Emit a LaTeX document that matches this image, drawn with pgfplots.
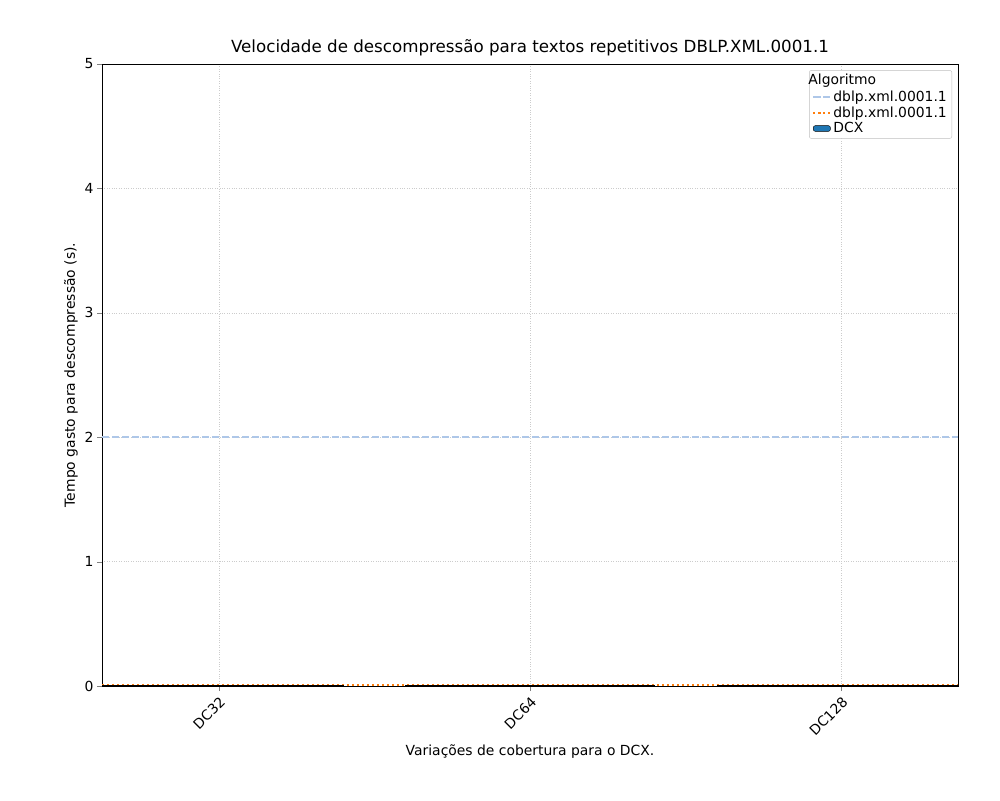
\documentclass[border=0pt]{standalone}
\usepackage{pgfplots}
\pgfplotsset{compat=1.18}
\usepackage{fontspec}
\setmainfont{DejaVu Sans}
\definecolor{lb}{HTML}{AEC7E8}
\definecolor{og}{HTML}{FF7F0E}
\definecolor{bb}{HTML}{1F77B4}
\begin{document}
\begin{tikzpicture}
\path[use as bounding box] (-102pt,-114pt) rectangle (898pt,686pt);
\begin{axis}[at={(0,0)},anchor=south west,scale only axis,
width=856pt,height=622pt,
xmin=-0.375,xmax=2.375,ymin=0,ymax=5,
xtick={0,1,2},xticklabels={DC32,DC64,DC128},
x tick label style={rotate=45,anchor=north east},
ytick={0,1,2,3,4,5},
xtick pos=bottom,ytick pos=left,
major tick length=5pt,
grid=major,grid style={dotted,gray!40},
tick align=outside,
font=\fontsize{13.9}{16}\selectfont,
/pgf/number format/assume math mode=true,
title={\fontsize{16.7}{19}\selectfont Velocidade de descompressão para textos repetitivos DBLP.XML.0001.1},
title style={yshift=-2pt},
xlabel={Variações de cobertura para o DCX.},
ylabel={Tempo gasto para descompressão (s).},
legend style={at={(0.993,0.99)},anchor=north east,font=\fontsize{13.9}{16}\selectfont,draw=gray!50,rounded corners=2pt},
legend cell align=left,
]
\addlegendimage{empty legend}\addlegendentry{\hspace{-25pt}Algoritmo}
\addplot[lb,dash pattern=on 7pt off 3pt,line width=2pt] coordinates {(-0.375,2) (2.375,2)};
\addlegendentry{dblp.xml.0001.1}
\addplot[og,dash pattern=on 2pt off 3pt,line width=2pt] coordinates {(-0.375,0.005) (2.375,0.005)};
\addlegendentry{dblp.xml.0001.1}
\addplot[ybar,bar width=0.8,fill=bb,draw=black,area legend] coordinates {(0,0.003) (1,0.003) (2,0.003)};
\addlegendentry{DCX}
\end{axis}
\end{tikzpicture}
\end{document}
